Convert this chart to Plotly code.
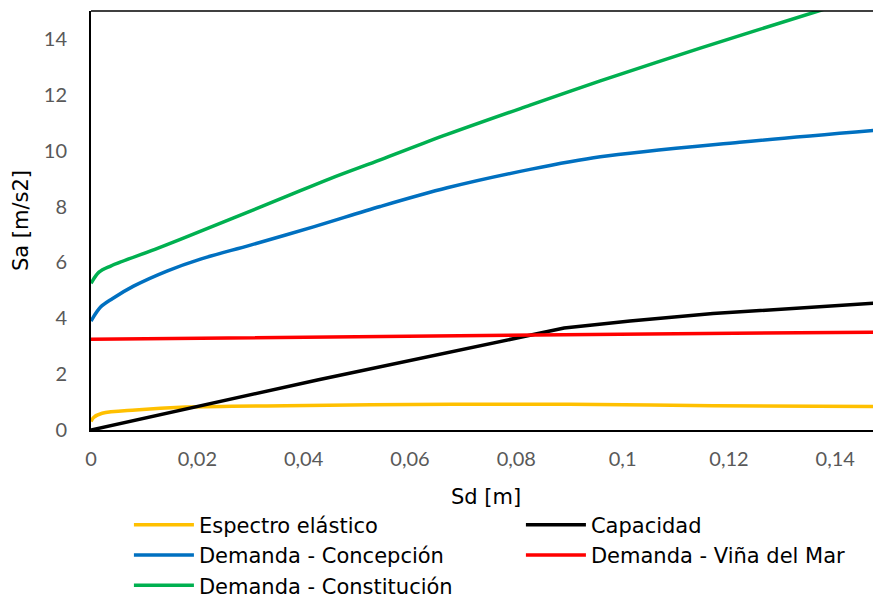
import plotly.graph_objects as go

# ---- data ----
esp_x = [0, 0.0005, 0.0021, 0.0084, 0.0178, 0.0366, 0.068, 0.09, 0.117, 0.15]
esp_y = [0.30, 0.45, 0.60, 0.72, 0.82, 0.87, 0.92, 0.92, 0.87, 0.84]

cap_x = [0, 0.0428, 0.089, 0.1014, 0.117, 0.15]
cap_y = [0, 1.80, 3.65, 3.90, 4.17, 4.57]

con_x = [0, 0.0018, 0.004, 0.008, 0.0144, 0.0206, 0.03, 0.042, 0.0544, 0.067, 0.0826, 0.0958, 0.122, 0.15]
con_y = [3.90, 4.40, 4.70, 5.15, 5.70, 6.12, 6.62, 7.28, 8.00, 8.67, 9.33, 9.78, 10.30, 10.77]

vina_x = [0, 0.03, 0.0732, 0.11, 0.15]
vina_y = [3.25, 3.31, 3.39, 3.45, 3.50]

cons_x = [0, 0.0015, 0.0037, 0.0125, 0.0168, 0.0356, 0.045, 0.0544, 0.067, 0.0826, 0.0958, 0.1146, 0.1368, 0.15]
cons_y = [5.25, 5.65, 5.87, 6.50, 6.82, 8.27, 9.00, 9.67, 10.58, 11.63, 12.50, 13.67, 15.00, 15.80]

x_ticks = [0, 0.02, 0.04, 0.06, 0.08, 0.1, 0.12, 0.14]
y_ticks = [0, 2, 4, 6, 8, 10, 12, 14]

series = [
    ("Espectro elástico", esp_x, esp_y, "#FFC000", "spline"),
    ("Capacidad", cap_x, cap_y, "#000000", "linear"),
    ("Demanda - Concepción", con_x, con_y, "#0070C0", "spline"),
    ("Demanda - Viña del Mar", vina_x, vina_y, "#FF0000", "linear"),
    ("Demanda - Constitución", cons_x, cons_y, "#00B050", "spline"),
]

fig = go.Figure()
for name, xs, ys, col, shape in series:
    fig.add_trace(go.Scatter(
        x=xs, y=ys, name=name, mode="lines",
        line=dict(color=col, width=3.5, shape=shape, smoothing=0.9),
    ))

tick_font = dict(family="Lato", size=20, color="#595959")
title_font = dict(family="DejaVu Sans", size=21, color="#000000")

fig.update_layout(
    width=873, height=591,
    margin=dict(l=83, r=0, t=3, b=169, autoexpand=False),
    paper_bgcolor="white", plot_bgcolor="white",
    separators=",.",
    showlegend=True,
    legend=dict(
        orientation="h",
        x=0.048, y=-0.178, xanchor="left", yanchor="top",
        font=dict(family="DejaVu Sans", size=21, color="#000000"),
        entrywidth=317, entrywidthmode="pixels",
        tracegroupgap=0, itemwidth=60,
        bgcolor="rgba(0,0,0,0)",
    ),
    xaxis=dict(
        range=[0, 0.1486], tickvals=x_ticks, showgrid=False, zeroline=False,
        showline=True, linecolor="#000000", linewidth=2, ticks="",
        tickfont=tick_font, ticklabelstandoff=10, automargin=False,
        title=dict(text="Sd [m]", font=title_font, standoff=20),
    ),
    yaxis=dict(
        range=[0, 15], tickvals=y_ticks, showgrid=False, zeroline=False,
        showline=True, linecolor="#000000", linewidth=2, ticks="",
        tickfont=tick_font, ticklabelstandoff=18, automargin=False,
        title=dict(text="Sa [m/s2]", font=title_font, standoff=9),
    ),
    shapes=[dict(type="line", xref="paper", yref="paper", x0=0, x1=1, y0=1, y1=1,
                 line=dict(color="#000000", width=1.5))],
)

fig.write_html("out.html")
